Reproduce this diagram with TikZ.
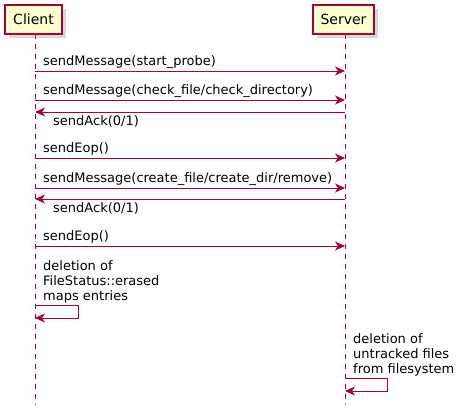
\documentclass[tikz,border=0pt]{standalone}
\usepackage{fontspec}
\setmainfont{DejaVu Sans}
\usetikzlibrary{arrows.meta,shadows}
\definecolor{umlred}{HTML}{A80036}
\definecolor{umlfill}{HTML}{FEFECE}
\tikzset{
  part/.style={draw=umlred,line width=1.2pt,fill=umlfill,minimum height=29pt,inner sep=0pt,
    font=\fontsize{14}{16}\selectfont,
    drop shadow={shadow xshift=4pt,shadow yshift=-4pt,opacity=0.3}},
  lifeline/.style={umlred,line width=1pt,dash pattern=on 5pt off 5pt},
  msg/.style={umlred,line width=1pt,-{Stealth[length=10pt,width=9pt,inset=3pt]}},
  lbl/.style={anchor=base west,inner sep=0pt,align=left,font=\fontsize{13}{15}\selectfont}
}
\begin{document}
\begin{tikzpicture}[x=1pt,y=-1pt]
  \useasboundingbox (0,0) rectangle (460,415);
  \coordinate (cl) at (35,34);
  \coordinate (clend) at (35,405);
  \coordinate (sv) at (345,34);
  \coordinate (svend) at (345,405);
  \draw[lifeline] (cl) -- (clend);
  \draw[lifeline] (sv) -- (svend);
  \node[part,minimum width=57pt] (client) at (33.5,19.5) {Client};
  \node[part,minimum width=61pt] (server) at (343.5,19.5) {Server};
  \draw[msg] (cl |- 0,71) -- (sv |- 0,71);
  \node[lbl] (m1) at (43,65) {sendMessage(start\_probe)};
  \draw[msg] (cl |- 0,100) -- (sv |- 0,100);
  \node[lbl] (m2) at (43,94) {sendMessage(check\_file/check\_directory)};
  \draw[msg] (sv |- 0,112) -- (cl |- 0,112);
  \node[lbl] (a1) at (53,125) {sendAck(0/1)};
  \draw[msg] (cl |- 0,158) -- (sv |- 0,158);
  \node[lbl] (e1) at (43,152) {sendEop()};
  \draw[msg] (cl |- 0,188) -- (sv |- 0,188);
  \node[lbl] (m3) at (43,182) {sendMessage(create\_file/create\_dir/remove)};
  \draw[msg] (sv |- 0,199) -- (cl |- 0,199);
  \node[lbl] (a2) at (53,212) {sendAck(0/1)};
  \draw[msg] (cl |- 0,246) -- (sv |- 0,246);
  \node[lbl] (e2) at (43,240) {sendEop()};
  \node[lbl] (d1) at (43,300) {deletion of\\FileStatus::erased\\maps entries};
  \draw[msg] (cl |- 0,305) -- (78,305) -- (78,318) -- (cl |- 0,318);
  \node[lbl] (d2) at (353,373) {deletion of\\untracked files\\from filesystem};
  \draw[msg] (sv |- 0,378) -- (387,378) -- (387,391) -- (sv |- 0,391);
\end{tikzpicture}
\end{document}
